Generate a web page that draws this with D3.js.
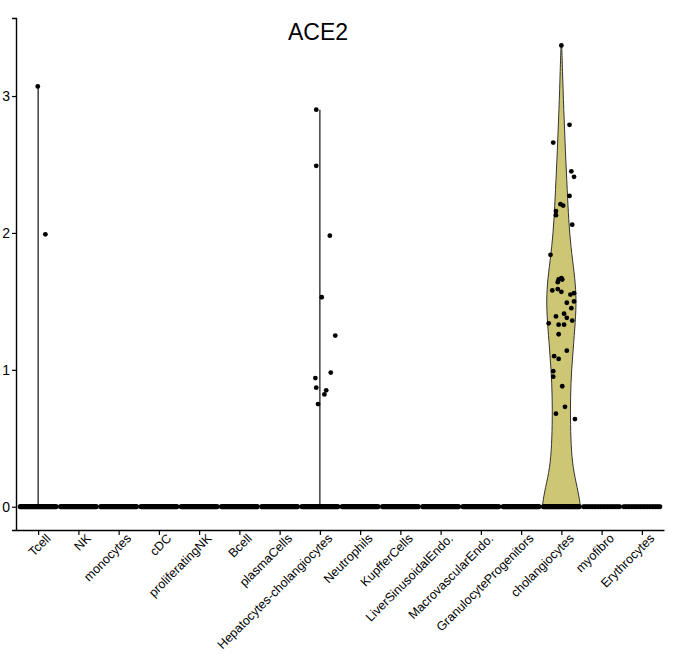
<!DOCTYPE html>
<html><head><meta charset="utf-8">
<script src="https://cdn.jsdelivr.net/npm/d3@7"></script>
<style>body{margin:0;background:#fff}</style>
</head><body><svg></svg>
<script>
// cell types on x
var categories = ["Tcell","NK","monocytes","cDC","proliferatingNK","Bcell","plasmaCells",
  "Hepatocytes-cholangiocytes","Neutrophils","KupfferCells","LiverSinusoidalEndo.",
  "MacrovascularEndo.","GranulocyteProgenitors","cholangiocytes","myofibro","Erythrocytes"];
var yTicks = [0, 1, 2, 3];

// non-zero expression points: [value, jitter (fraction of half band)]
var tcellPts = [[3.07, -0.02], [1.99, 0.4]];
var hepPts = [[2.90,-0.2],[2.49,-0.2],[1.98,0.55],[1.53,0.1],[1.25,0.85],[0.98,0.6],
  [0.94,-0.25],[0.87,-0.2],[0.85,0.35],[0.82,0.25],[0.75,-0.1]];
var cholPts = [[3.37,0.0],[2.79,0.45],[2.66,-0.45],[2.45,0.55],[2.41,0.7],[2.27,0.45],
  [2.21,-0.05],[2.20,0.1],[2.16,-0.3],[2.13,-0.3],[2.06,0.6],[1.84,-0.6],[1.66,-0.15],
  [1.67,0.0],[1.66,0.05],[1.64,-0.2],[1.58,-0.5],[1.59,-0.2],[1.57,0.0],[1.55,0.5],
  [1.56,0.7],[1.50,0.7],[1.49,0.3],[1.45,0.55],[1.41,0.15],[1.39,-0.3],[1.38,0.3],
  [1.36,0.6],[1.34,-0.7],[1.33,-0.15],[1.33,0.15],[1.26,-0.15],[1.14,0.3],[1.10,-0.4],
  [1.08,-0.15],[0.99,-0.45],[0.95,-0.45],[0.88,0.05],[0.73,0.2],[0.68,-0.3],[0.64,0.75]];

// violin outline for cholangiocytes: value, half width (fraction of half band)
var violinY = [0, 0.1, 0.25, 0.4, 0.6, 0.8, 1.0, 1.2, 1.4, 1.55, 1.7, 1.9, 2.1, 2.3, 2.6, 2.9, 3.2, 3.37];
var violinW = [1.05, 0.95, 0.68, 0.55, 0.5, 0.5, 0.56, 0.68, 0.8, 0.82, 0.72, 0.52, 0.4, 0.33, 0.22, 0.13, 0.06, 0.02];
// thin violins (drawn as lines): category, max value
var lineViolins = [["Tcell", 3.07], ["Hepatocytes-cholangiocytes", 2.9]];
// zero-valued cells per type
var zeroCounts = [60,60,60,60,60,60,60,60,60,60,60,60,60,60,25,25];

var W = 674, H = 662;
var svg = d3.select("svg").attr("width", W).attr("height", H)
  .style("font-family", "Liberation Sans, Arial, sans-serif");

var x = d3.scalePoint().domain(categories).range([16, 664]).padding(0.55);
var y = d3.scaleLinear().domain([-0.17, 3.57]).range([530, 18]);
var half = x.step() * 0.45;

svg.append("text").attr("x", 318).attr("y", 40).attr("text-anchor", "middle")
  .attr("font-size", 23).text("ACE2");

// violin
var area = d3.area()
  .y(function(d, i) { return y(violinY[i]); })
  .x0(function(d, i) { return x("cholangiocytes") - violinW[i] * half; })
  .x1(function(d, i) { return x("cholangiocytes") + violinW[i] * half; })
  .curve(d3.curveBasis);
svg.append("path").datum(violinY).attr("d", area)
  .attr("fill", "#cdc674").attr("stroke", "#333").attr("stroke-width", 1);

lineViolins.forEach(function(v) {
  svg.append("line").attr("x1", x(v[0])).attr("x2", x(v[0]))
    .attr("y1", y(0)).attr("y2", y(v[1])).attr("stroke", "#222").attr("stroke-width", 1.3);
});

// zero points
categories.forEach(function(c, i) {
  var n = zeroCounts[i];
  d3.range(n).forEach(function(k) {
    svg.append("circle").attr("cx", x(c) + (k / (n - 1) * 2 - 1) * half)
      .attr("cy", y(0)).attr("r", 2.4).attr("fill", "#000");
  });
});

function pts(c, arr) {
  svg.selectAll(null).data(arr).enter().append("circle")
    .attr("cx", function(d) { return x(c) + d[1] * half; })
    .attr("cy", function(d) { return y(d[0]); })
    .attr("r", 2.4).attr("fill", "#000");
}
pts("Tcell", tcellPts);
pts("Hepatocytes-cholangiocytes", hepPts);
pts("cholangiocytes", cholPts);

// axes
var ya = svg.append("g").attr("transform", "translate(16,0)")
  .call(d3.axisLeft(y).tickValues(yTicks).tickFormat(d3.format("d")).tickSize(4).tickPadding(2));
ya.selectAll("text").attr("font-size", 14).attr("fill", "#000");
var xa = svg.append("g").attr("transform", "translate(0,530)")
  .call(d3.axisBottom(x).tickSize(5).tickSizeOuter(0));
xa.selectAll("text").attr("font-size", 12.5).attr("fill", "#000")
  .attr("text-anchor", "end").attr("dx", "0.2em").attr("dy", "0.6em")
  .attr("transform", "rotate(-45)");
svg.selectAll(".domain").attr("stroke", "#000").attr("stroke-width", 1.4);
svg.selectAll(".tick line").attr("stroke", "#000").attr("stroke-width", 1.2);
</script></body></html>
